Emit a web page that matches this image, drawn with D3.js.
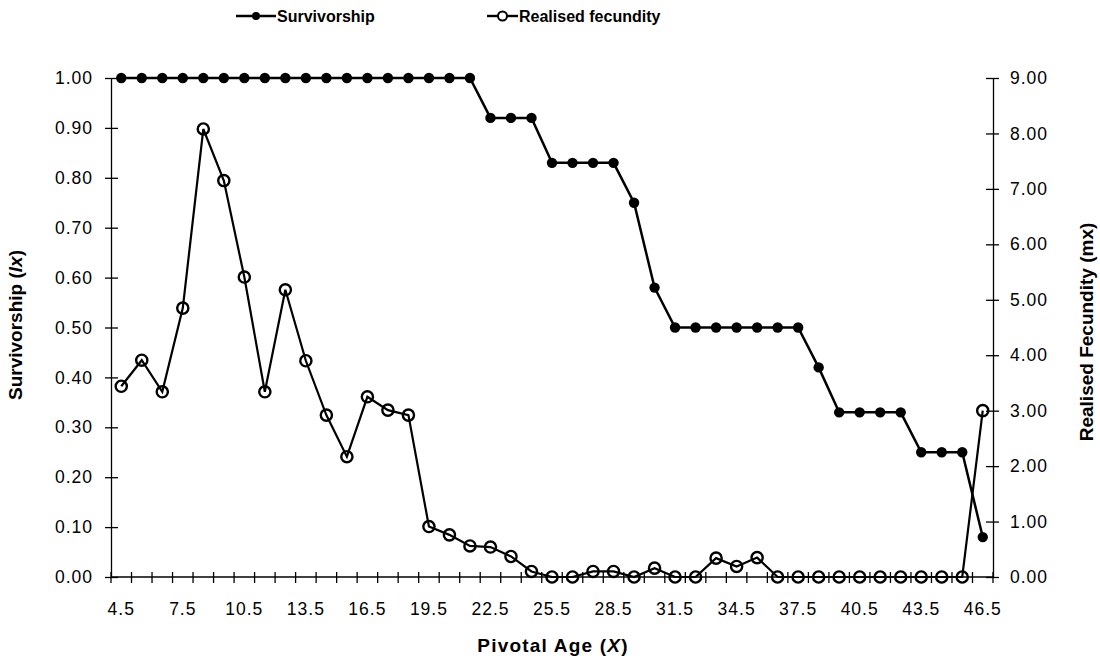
<!DOCTYPE html>
<html>
<head>
<meta charset="utf-8">
<script src="https://cdn.jsdelivr.net/npm/d3@7"></script>
<style>
  body { margin: 0; background: #fff; }
  svg { font-family: "Liberation Sans", Arial, sans-serif; }
  .axis text { font-size: 17.5px; fill: #000; letter-spacing: 1px; }
  .axis path, .axis line { stroke: #000; stroke-width: 1.3; }
</style>
</head>
<body>
<svg id="chart" width="1100" height="661"></svg>
<script>
// pivotal ages
const ages = [4.5, 5.5, 6.5, 7.5, 8.5, 9.5, 10.5, 11.5, 12.5, 13.5, 14.5, 15.5, 16.5, 17.5,
  18.5, 19.5, 20.5, 21.5, 22.5, 23.5, 24.5, 25.5, 26.5, 27.5, 28.5, 29.5, 30.5, 31.5,
  32.5, 33.5, 34.5, 35.5, 36.5, 37.5, 38.5, 39.5, 40.5, 41.5, 42.5, 43.5, 44.5, 45.5, 46.5];
const survivorship = [1, 1, 1, 1, 1, 1, 1, 1, 1, 1, 1, 1, 1, 1, 1, 1, 1, 1,
  0.92, 0.92, 0.92, 0.83, 0.83, 0.83, 0.83, 0.75, 0.58,
  0.50, 0.50, 0.50, 0.50, 0.50, 0.50, 0.50, 0.42,
  0.33, 0.33, 0.33, 0.33, 0.25, 0.25, 0.25, 0.08];
const fecundity = [3.44, 3.91, 3.34, 4.85, 8.08, 7.15, 5.41, 3.34, 5.18, 3.90, 2.92, 2.17,
  3.25, 3.01, 2.92, 0.91, 0.76, 0.56, 0.54, 0.37, 0.10, 0, 0, 0.10, 0.10, 0, 0.16,
  0, 0, 0.34, 0.19, 0.35, 0, 0, 0, 0, 0, 0, 0, 0, 0, 0, 3.00];
const xLabels = ['4.5', '7.5', '10.5', '13.5', '16.5', '19.5', '22.5', '25.5', '28.5',
  '31.5', '34.5', '37.5', '40.5', '43.5', '46.5'];
const leftTicks = [0, 0.1, 0.2, 0.3, 0.4, 0.5, 0.6, 0.7, 0.8, 0.9, 1.0];
const rightTicks = [0, 1, 2, 3, 4, 5, 6, 7, 8, 9];

const svg = d3.select('#chart');
const plotL = 111, plotR = 993, plotT = 78, plotB = 577;

const x = d3.scaleBand().domain(ages).range([plotL, plotR]);
const cx = d => x(d) + x.bandwidth() / 2;
const yL = d3.scaleLinear().domain([0, 1]).range([plotB, plotT]);
const yR = d3.scaleLinear().domain([0, 9]).range([plotB, plotT]);

// axes (ticks cross the axis line)
const gL = svg.append('g').attr('class', 'axis').attr('transform', `translate(${plotL},0)`)
    .call(d3.axisLeft(yL).tickValues(leftTicks).tickFormat(d3.format('.2f'))
      .tickSize(6).tickSizeOuter(0));
gL.selectAll('.tick line').attr('x2', 7).attr('x1', -6);
gL.selectAll('.tick text').attr('x', -18);

const gR = svg.append('g').attr('class', 'axis').attr('transform', `translate(${plotR},0)`)
    .call(d3.axisRight(yR).tickValues(rightTicks).tickFormat(d3.format('.2f'))
      .tickSize(6).tickSizeOuter(0));
gR.selectAll('.tick line').attr('x1', -7).attr('x2', 6);
gR.selectAll('.tick text').attr('x', 17);

const gX = svg.append('g').attr('class', 'axis').attr('transform', `translate(0,${plotB})`);
gX.append('line').attr('x1', plotL).attr('x2', plotR).attr('stroke', '#000').attr('stroke-width', 1.3);
gX.selectAll('.tk').data(ages.concat(['end'])).join('line').attr('class', 'tk')
    .attr('x1', (d, i) => plotL + i * x.bandwidth()).attr('x2', (d, i) => plotL + i * x.bandwidth())
    .attr('y1', -5).attr('y2', 6).attr('stroke', '#000').attr('stroke-width', 1.3);
gX.selectAll('.lab').data(xLabels).join('text').attr('class', 'lab')
    .attr('x', d => cx(+d)).attr('y', 38).attr('text-anchor', 'middle').text(d => d);

// axis titles
svg.append('text').attr('transform', `translate(22,325) rotate(-90)`)
    .attr('text-anchor', 'middle').attr('font-size', 19).attr('font-weight', 'bold')
    .html('Survivorship (<tspan font-style="italic">lx</tspan>)');
svg.append('text').attr('transform', `translate(1093,332) rotate(-90)`)
    .attr('text-anchor', 'middle').attr('font-size', 19).attr('font-weight', 'bold')
    .text('Realised Fecundity (mx)');
svg.append('text').attr('x', 553).attr('y', 652)
    .attr('text-anchor', 'middle').attr('font-size', 19).attr('font-weight', 'bold')
    .attr('letter-spacing', 1.2)
    .html('Pivotal Age (<tspan font-style="italic">X</tspan>)');

// series
const lineS = d3.line().x((d, i) => cx(ages[i])).y(d => yL(d));
const lineF = d3.line().x((d, i) => cx(ages[i])).y(d => yR(d));

svg.append('path').datum(survivorship).attr('d', lineS)
    .attr('fill', 'none').attr('stroke', '#000').attr('stroke-width', 2.5);
svg.append('path').datum(fecundity).attr('d', lineF)
    .attr('fill', 'none').attr('stroke', '#000').attr('stroke-width', 2.2);

svg.selectAll('.dotS').data(survivorship).join('circle').attr('class', 'dotS')
    .attr('cx', (d, i) => cx(ages[i])).attr('cy', d => yL(d)).attr('r', 5.2).attr('fill', '#000');
svg.selectAll('.dotF').data(fecundity).join('circle').attr('class', 'dotF')
    .attr('cx', (d, i) => cx(ages[i])).attr('cy', d => yR(d)).attr('r', 5.6)
    .attr('fill', 'none').attr('stroke', '#000').attr('stroke-width', 2.4);

// legend
const legend = [
  {name: 'Survivorship', x: 236, len: 40, open: false},
  {name: 'Realised fecundity', x: 487, len: 31, open: true}
];
const lg = svg.selectAll('.leg').data(legend).join('g').attr('class', 'leg')
    .attr('transform', d => `translate(${d.x},16)`);
lg.append('line').attr('x1', 0).attr('x2', d => d.len).attr('stroke', '#000').attr('stroke-width', 2.4);
lg.append('circle').attr('cx', d => d.len / 2).attr('r', d => d.open ? 4.5 : 4)
    .attr('fill', d => d.open ? '#fff' : '#000').attr('stroke', '#000')
    .attr('stroke-width', d => d.open ? 2 : 0);
lg.append('text').attr('x', d => d.len + 1).attr('y', 6).attr('font-size', 16).attr('font-weight', 'bold')
    .text(d => d.name);
</script>
</body>
</html>
